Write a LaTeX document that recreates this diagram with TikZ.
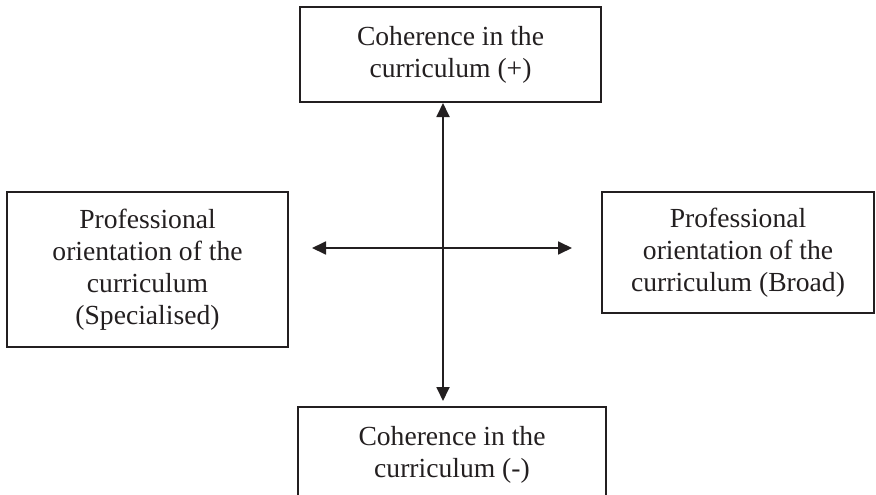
\documentclass[tikz,border=0pt]{standalone}
\usepackage{fontspec}
\setmainfont{Liberation Serif}
\usetikzlibrary{arrows.meta}
\definecolor{ink}{HTML}{231F20}
\tikzset{
  box/.style={draw=ink, line width=1.8pt, text=ink, align=center, inner sep=0pt,
    font=\fontsize{27.6}{32}\selectfont},
  arr/.style={draw=ink, line width=1.8pt, {Triangle[length=14pt,width=13pt]}-{Triangle[length=14pt,width=13pt]}}
}
\begin{document}
\begin{tikzpicture}[x=1pt,y=-1pt]
\useasboundingbox (0,0) rectangle (876,495);
\clip (0,0) rectangle (876,495);
\node[box, minimum width=301pt, minimum height=95pt] (top) at (450.5,54.5)
  {Coherence in the\\curriculum (+)};
\node[box, minimum width=281pt, minimum height=155pt] (left) at (147.5,269.5)
  {Professional\\orientation of the\\curriculum\\(Specialised)};
\node[box, minimum width=272pt, minimum height=121pt] (right) at (738,252.5)
  {Professional\\orientation of the\\curriculum (Broad)};
\node[box, minimum width=308pt, minimum height=95pt] (bottom) at (452,454.5)
  {Coherence in the\\curriculum (-)};
\coordinate (vt) at (443,103);
\coordinate (vb) at (443,401);
\coordinate (hl) at (312,248);
\coordinate (hr) at (572,248);
\draw[arr] (vt) -- (vb);
\draw[arr] (hl) -- (hr);
\end{tikzpicture}
\end{document}
